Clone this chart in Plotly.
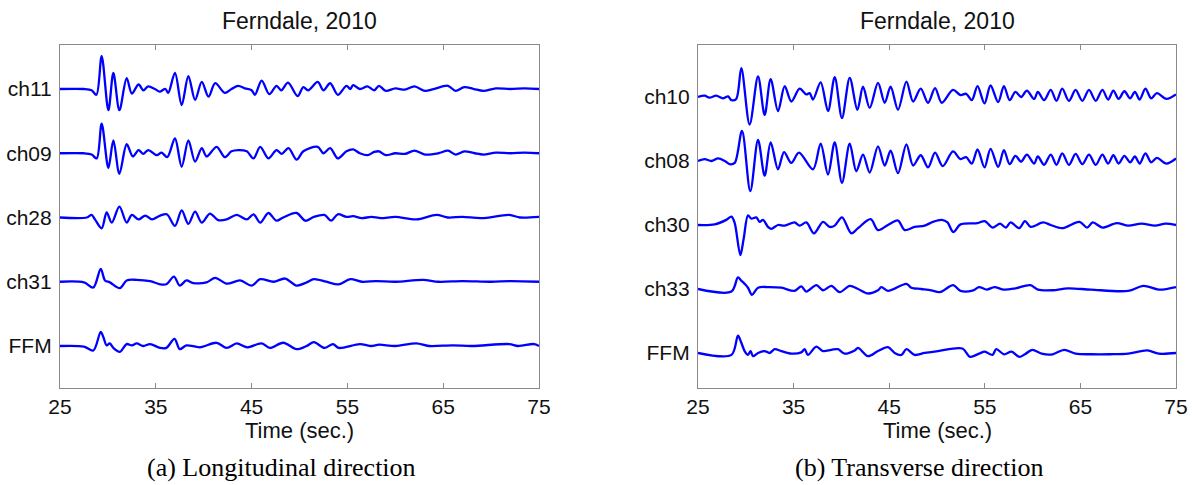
import plotly.graph_objects as go

# ---------------- Data ----------------
# Time in seconds, amplitude in normalised units (1 unit = trace spacing)
left_channels = ["ch11", "ch09", "ch28", "ch31", "FFM"]
right_channels = ["ch10", "ch08", "ch30", "ch33", "FFM"]
channel_offsets = [5, 4, 3, 2, 1]
x_ticks = [25, 35, 45, 55, 65, 75]

# ---- (a) Longitudinal direction ----
L_ch11_t = [25.0, 27.5, 28.3, 28.8, 29.35, 30.05, 30.57, 31.2, 31.96, 32.5, 33.2, 33.7, 34.2, 34.9, 35.4, 36.0, 36.3,
            37.0, 37.7, 38.4, 39.1, 39.8, 40.5, 41.2, 42.2, 42.9, 43.6, 44.3, 45.0, 45.35, 46.05, 46.85, 47.6, 48.1,
            48.8, 49.8, 50.4, 50.9, 51.9, 52.5, 53.2, 54.0, 54.9, 55.3, 55.6, 56.3, 57.1, 57.8, 58.3, 59.0, 60.0,
            61.0, 62.0, 63.1, 64.0, 65.5, 66.3, 67.2, 68.2, 69.2, 70.5, 72.0, 73.5, 75.0]
L_ch11_a = [0.0, 0.0, -0.02, -0.09, 0.51, -0.33, 0.25, -0.33, 0.17, -0.07, 0.07, -0.02, 0.04, 0.0, -0.04, 0.0, -0.06,
            0.25, -0.25, 0.2, -0.17, 0.11, -0.12, 0.09, -0.06, 0.0, 0.05, 0.01, -0.02, -0.09, 0.13, -0.08, 0.05, -0.02,
            0.1, -0.11, 0.03, -0.02, 0.11, -0.02, 0.09, -0.09, 0.05, 0.0, 0.06, 0.0, 0.04, -0.02, 0.05, -0.03, 0.01,
            -0.01, 0.04, -0.03, 0.0, 0.05, -0.03, 0.03, 0.0, -0.03, 0.01, 0.0, 0.01, 0.0]

L_ch09_t = [25.0, 27.5, 28.3, 28.83, 29.35, 30.05, 30.57, 31.2, 31.96, 32.6, 33.2, 33.7, 34.2, 35.1, 35.6, 36.2,
            37.0, 37.7, 38.4, 39.1, 39.8, 40.3, 41.35, 42.2, 42.9, 43.6, 44.5, 45.2, 45.9, 46.75, 47.6, 48.15, 48.85,
            49.7, 50.4, 51.9, 52.5, 53.2, 54.0, 54.9, 55.6, 56.3, 57.1, 57.8, 58.3, 59.0, 60.0, 61.0, 62.0, 63.1,
            64.5, 65.5, 66.3, 67.2, 68.3, 69.2, 70.5, 72.0, 73.5, 75.0]
L_ch09_a = [0.0, 0.0, -0.02, -0.08, 0.46, -0.23, 0.2, -0.32, 0.14, -0.05, 0.05, -0.01, 0.05, -0.03, 0.01, -0.06,
            0.23, -0.21, 0.2, -0.13, 0.08, -0.05, 0.1, -0.06, 0.03, 0.05, 0.03, -0.08, 0.1, -0.08, 0.05, -0.01, 0.08,
            -0.1, 0.03, 0.1, 0.0, 0.08, -0.08, 0.03, 0.06, 0.0, -0.03, 0.02, 0.03, -0.03, 0.0, -0.01, 0.04, -0.02,
            0.0, 0.04, -0.02, 0.03, 0.0, -0.02, 0.01, 0.0, 0.01, 0.0]

L_ch28_t = [25.0, 27.8, 28.3, 28.65, 29.35, 29.87, 30.4, 31.2, 31.96, 32.5, 33.2, 33.9, 34.6, 35.45, 36.15, 37.0,
            37.7, 38.4, 39.1, 39.8, 40.65, 41.5, 42.4, 43.45, 44.5, 45.2, 45.9, 46.75, 47.6, 48.3, 49.7, 50.6, 51.5,
            52.6, 53.3, 54.0, 54.9, 55.6, 56.5, 57.5, 58.5, 60.0, 62.2, 64.3, 65.5, 67.0, 69.0, 71.9, 73.0, 75.0]
L_ch28_a = [0.0, 0.0, 0.04, -0.03, -0.17, 0.08, -0.08, 0.17, -0.08, 0.04, -0.03, 0.03, -0.03, 0.03, 0.05, -0.13,
            0.11, -0.1, 0.09, -0.08, 0.06, -0.04, -0.03, 0.04, -0.03, 0.05, -0.08, 0.07, -0.05, 0.0, 0.07, -0.05, 0.01,
            0.04, -0.05, 0.05, 0.01, 0.02, -0.01, 0.01, -0.01, 0.01, -0.03, 0.04, 0.0, 0.01, -0.01, 0.04, 0.0, 0.01]

L_ch31_t = [25.0, 27.5, 28.48, 29.25, 29.7, 30.2, 31.25, 31.96, 33.0, 34.4, 35.45, 36.1, 36.9, 37.5, 38.2, 38.9,
            40.3, 41.2, 42.4, 43.8, 45.0, 45.9, 47.3, 48.5, 49.7, 50.75, 51.5, 52.8, 54.1, 55.3, 56.5, 58.0, 60.0,
            62.9, 64.5, 67.0, 70.0, 72.0, 75.0]
L_ch31_a = [0.0, -0.01, -0.09, 0.2, 0.02, -0.01, -0.1, 0.02, 0.03, 0.01, -0.04, -0.04, 0.08, -0.06, 0.02, -0.02,
            -0.01, 0.06, -0.03, 0.02, -0.06, 0.04, 0.0, 0.05, -0.06, -0.01, 0.04, 0.0, -0.04, 0.04, 0.0, 0.01, 0.0,
            0.03, 0.0, 0.01, 0.0, 0.01, 0.0]

L_ffm_t = [25.0, 27.5, 28.48, 29.25, 29.52, 29.87, 30.2, 30.57, 31.25, 31.96, 32.5, 33.0, 33.7, 34.4, 35.45, 36.1,
           36.95, 37.5, 38.2, 39.6, 41.35, 42.4, 43.45, 44.5, 46.05, 46.9, 48.3, 49.7, 50.75, 51.5, 52.6, 53.5, 54.1,
           56.3, 57.5, 58.3, 60.0, 62.2, 63.5, 66.0, 68.0, 71.9, 72.8, 74.5, 75.0]
L_ffm_a = [0.0, -0.01, -0.07, 0.22, 0.14, 0.01, 0.04, -0.03, -0.09, 0.03, 0.01, 0.04, 0.0, 0.03, -0.03, -0.03,
           0.11, -0.05, 0.01, -0.02, 0.05, -0.03, 0.04, -0.02, 0.04, -0.03, 0.05, -0.05, 0.0, 0.06, -0.03, 0.03, -0.03,
           0.03, 0.0, 0.02, 0.0, 0.04, 0.0, 0.01, 0.0, 0.03, 0.0, 0.03, 0.0]

# ---- (b) Transverse direction ----
R_ch10_t = [25.0, 25.7, 26.2, 26.9, 27.6, 28.15, 28.5, 29.0, 29.53, 30.4, 31.28, 31.97, 32.6, 33.37, 34.07, 34.76,
            35.63, 36.33, 36.68, 37.03, 37.83, 38.6, 39.3, 40.06, 40.87, 41.67, 42.26, 42.96, 43.83, 44.53, 45.15,
            45.92, 46.8, 47.5, 48.3, 49.06, 49.8, 50.5, 51.67, 52.46, 53.05, 53.64, 54.24, 54.97, 55.6, 56.4, 57.0,
            57.6, 58.2, 58.8, 59.4, 60.16, 60.55, 61.2, 61.9, 62.5, 63.1, 63.8, 64.5, 65.2, 65.9, 66.6, 67.3, 67.9,
            68.45, 69.0, 69.6, 70.2, 70.7, 71.2, 71.8, 72.4, 73.0, 74.0, 75.0]
R_ch10_a = [0.0, 0.02, -0.01, 0.02, -0.02, 0.01, -0.05, -0.03, 0.45, -0.43, 0.32, -0.28, 0.28, -0.22, 0.17, -0.07,
            0.13, 0.04, 0.06, -0.04, 0.23, -0.22, 0.31, -0.33, 0.3, -0.2, 0.16, -0.17, 0.22, -0.09, 0.16,
            -0.2, 0.24, -0.07, 0.13, -0.09, 0.14, -0.09, 0.11, 0.03, 0.05, -0.05, 0.17, -0.1, 0.18, -0.08, 0.17,
            -0.05, 0.08, 0.0, 0.1, -0.03, 0.08, -0.05, 0.11, -0.06, 0.13, -0.06, 0.11, -0.06, 0.11, -0.06, 0.11, -0.04,
            0.1, -0.03, 0.09, -0.02, 0.08, -0.04, 0.13, -0.02, 0.06, -0.03, 0.04]

R_ch08_t = [25.0, 25.7, 26.4, 27.1, 27.8, 28.3, 28.84, 29.6, 30.47, 31.28, 31.97, 32.6, 33.37, 34.0, 34.76, 35.56,
            37.03, 37.83, 38.6, 39.3, 40.06, 40.87, 41.56, 42.26, 42.96, 43.83, 44.53, 45.15, 45.92, 46.8, 47.5, 48.3,
            49.06, 49.8, 50.6, 51.67, 52.46, 53.05, 53.64, 54.24, 54.97, 55.6, 56.4, 57.0, 57.6, 58.2, 58.8, 59.4,
            60.16, 60.55, 61.2, 61.9, 62.5, 63.1, 63.8, 64.5, 65.2, 65.9, 66.6, 67.3, 67.9, 68.45, 69.0, 69.6, 70.2,
            70.7, 71.2, 71.8, 72.4, 73.0, 74.0, 75.0]
R_ch08_a = [0.0, 0.03, 0.0, 0.04, 0.0, -0.05, -0.03, 0.47, -0.47, 0.33, -0.23, 0.29, -0.13, 0.14, -0.03, 0.13,
            -0.13, 0.27, -0.21, 0.29, -0.34, 0.27, -0.16, 0.1, -0.18, 0.23, -0.07, 0.16, -0.19, 0.26, -0.07, 0.09,
            -0.1, 0.13, -0.08, 0.15, 0.03, 0.06, -0.04, 0.18, -0.1, 0.19, -0.09, 0.17, -0.05, 0.08, -0.01, 0.1,
            -0.04, 0.07, -0.06, 0.1, -0.06, 0.12, -0.06, 0.11, -0.05, 0.1, -0.06, 0.1, -0.04, 0.09, -0.04, 0.08, -0.02,
            0.07, -0.04, 0.12, -0.02, 0.05, -0.04, 0.04]

R_ch30_t = [25.0, 26.75, 27.96, 28.5, 28.84, 29.43, 29.78, 30.23, 30.58, 31.1, 31.45, 31.8, 32.32, 32.67, 33.37,
            34.07, 35.1, 35.63, 36.33, 37.13, 38.08, 38.77, 39.3, 40.06, 41.04, 41.74, 43.06, 43.83, 44.87, 45.92,
            46.62, 47.66, 48.71, 49.58, 50.5, 51.1, 51.7, 52.46, 54.24, 55.0, 55.8, 56.6, 57.2, 57.7, 58.6, 59.2,
            59.8, 61.1, 61.9, 63.1, 64.9, 65.7, 66.3, 67.3, 68.8, 70.0, 71.4, 72.8, 73.9, 75.0]
R_ch30_a = [0.0, 0.01, 0.08, 0.13, 0.03, -0.47, -0.21, 0.15, 0.1, 0.12, 0.05, 0.08, -0.03, -0.06, 0.0,
            -0.01, 0.04, -0.01, 0.04, -0.13, 0.05, -0.03, -0.01, 0.12, -0.13, -0.05, 0.09, -0.08, 0.0, 0.07,
            -0.08, -0.03, -0.01, 0.05, 0.08, 0.04, -0.11, 0.01, 0.03, 0.06, -0.04, 0.02, -0.04, 0.04, -0.05, 0.06,
            -0.03, 0.04, 0.0, -0.05, 0.05, -0.04, 0.04, -0.04, 0.03, -0.01, 0.02, -0.01, 0.02, 0.0]

R_ch33_t = [25.0, 28.5, 29.18, 29.53, 29.88, 30.23, 30.65, 31.28, 32.32, 33.72, 35.1, 35.8, 36.33, 37.38, 38.08,
            38.95, 39.82, 40.87, 41.74, 42.78, 43.83, 44.18, 44.87, 46.8, 47.3, 48.36, 49.4, 50.28, 51.7, 52.46,
            53.8, 54.4, 55.2, 56.0, 57.0, 58.2, 59.76, 60.55, 62.1, 63.7, 66.1, 70.0, 71.6, 73.2, 75.0]
R_ch33_a = [0.0, -0.04, 0.18, 0.13, 0.08, 0.02, -0.09, 0.02, 0.03, 0.02, -0.03, 0.04, -0.04, 0.06, -0.02,
            0.05, -0.05, 0.05, 0.0, -0.07, -0.02, 0.03, -0.03, 0.08, 0.02, 0.0, -0.02, -0.05, 0.06, -0.03,
            -0.02, 0.03, -0.01, 0.03, -0.01, 0.01, 0.06, -0.01, -0.02, 0.01, -0.01, -0.03, 0.05, -0.01, 0.03]

R_ffm_t = [25.0, 28.5, 29.18, 29.53, 29.88, 30.23, 30.5, 30.75, 31.28, 31.97, 32.5, 33.02, 33.72, 34.76, 35.8,
           36.16, 36.5, 37.38, 38.08, 38.95, 39.64, 40.34, 41.39, 41.74, 42.78, 43.83, 44.87, 45.57, 46.27, 46.8,
           47.66, 48.71, 50.1, 52.66, 53.45, 54.4, 55.0, 55.8, 56.2, 57.0, 57.8, 58.6, 59.2, 59.96, 60.95, 62.1,
           63.3, 64.5, 66.1, 68.1, 70.0, 72.0, 73.2, 75.0]
R_ffm_a = [0.0, -0.03, 0.27, 0.16, 0.03, -0.03, 0.03, -0.05, 0.0, 0.03, 0.0, 0.06, 0.03, -0.01, 0.01,
           0.06, -0.03, 0.1, 0.03, 0.05, 0.06, -0.01, 0.04, 0.08, -0.05, 0.03, 0.09, 0.0, -0.03, 0.06,
           -0.03, 0.0, 0.03, 0.07, -0.06, -0.01, 0.02, -0.03, 0.06, -0.02, 0.02, -0.06, -0.02, 0.05, -0.01, -0.02,
           0.05, -0.01, -0.02, -0.02, -0.01, 0.04, -0.01, 0.0]

left_data = [(L_ch11_t, L_ch11_a), (L_ch09_t, L_ch09_a), (L_ch28_t, L_ch28_a), (L_ch31_t, L_ch31_a), (L_ffm_t, L_ffm_a)]
right_data = [(R_ch10_t, R_ch10_a), (R_ch08_t, R_ch08_a), (R_ch30_t, R_ch30_a), (R_ch33_t, R_ch33_a), (R_ffm_t, R_ffm_a)]

# ---------------- Figure ----------------
W, H = 1192, 485
LINE = "#0000ff"
AXC = "#8a8a8a"
SANS = "Liberation Sans, Arial, sans-serif"
SERIF = "Liberation Serif, Times New Roman, serif"

fig = go.Figure()

for (t, a), off, name in zip(left_data, channel_offsets, left_channels):
    fig.add_trace(go.Scatter(x=t, y=[off + v for v in a], mode="lines", name=name,
                             line=dict(color=LINE, width=2.3, shape="spline", smoothing=0.9),
                             xaxis="x", yaxis="y", showlegend=False))
for (t, a), off, name in zip(right_data, channel_offsets, right_channels):
    fig.add_trace(go.Scatter(x=t, y=[off + v for v in a], mode="lines", name=name,
                             line=dict(color=LINE, width=2.3, shape="spline", smoothing=0.9),
                             xaxis="x2", yaxis="y2", showlegend=False))

dom_y = [1 - 388 / H, 1 - 45 / H]
xcommon = dict(range=[25, 75], tickvals=x_ticks, ticktext=[str(v) for v in x_ticks],
               showline=True, linecolor=AXC, linewidth=1.2, mirror="ticks", automargin=False,
               ticks="inside", ticklen=5, tickcolor=AXC, showgrid=False, zeroline=False,
               tickfont=dict(family=SANS, size=21, color="#111111"), ticklabelstandoff=0)
ycommon = dict(tickvals=channel_offsets, showline=True, linecolor=AXC, linewidth=1.2, mirror=True,
               ticks="", showgrid=False, zeroline=False, automargin=False,
               tickfont=dict(family=SANS, size=21, color="#111111"), ticklabelstandoff=3)

fig.update_layout(
    width=W, height=H, margin=dict(l=0, r=0, t=0, b=0, autoexpand=False),
    paper_bgcolor="white", plot_bgcolor="white",
    xaxis=dict(domain=[60 / W, 539 / W], anchor="y", **xcommon),
    yaxis=dict(domain=dom_y, anchor="x", range=[0.346, 5.685], ticktext=left_channels, **ycommon),
    xaxis2=dict(domain=[698 / W, 1176 / W], anchor="y2", **xcommon),
    yaxis2=dict(domain=dom_y, anchor="x2", range=[0.453, 5.8125], ticktext=right_channels, **ycommon),
)

ann = [
    dict(text="Ferndale, 2010", x=299.5 / W, y=1 - 21 / H, font=dict(family=SANS, size=23, color="#111111")),
    dict(text="Ferndale, 2010", x=937 / W, y=1 - 21 / H, font=dict(family=SANS, size=23, color="#111111")),
    dict(text="Time (sec.)", x=299.5 / W, y=1 - 430 / H, font=dict(family=SANS, size=22, color="#111111")),
    dict(text="Time (sec.)", x=937 / W, y=1 - 430 / H, font=dict(family=SANS, size=22, color="#111111")),
    dict(text="(a) Longitudinal direction", x=281 / W, y=1 - 467 / H, font=dict(family=SERIF, size=26, color="#000000")),
    dict(text="(b) Transverse direction", x=919 / W, y=1 - 467 / H, font=dict(family=SERIF, size=26, color="#000000")),
]
for a in ann:
    fig.add_annotation(xref="paper", yref="paper", showarrow=False, xanchor="center", yanchor="middle", **a)

fig.write_html("out.html")
